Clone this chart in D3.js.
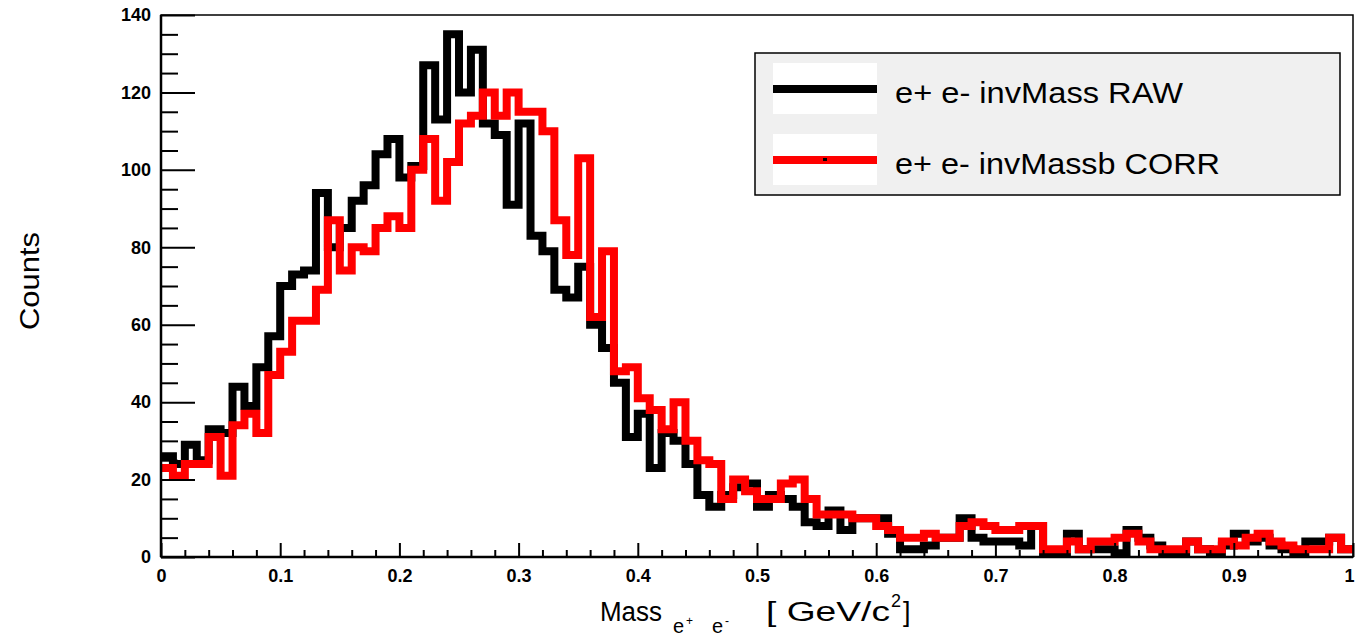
<!DOCTYPE html>
<html>
<head>
<meta charset="utf-8">
<script src="https://cdn.jsdelivr.net/npm/d3@7"></script>
<style>
  body { margin: 0; background: #fff; }
  svg text { font-family: "Liberation Sans", Arial, sans-serif; fill: #000; }
</style>
</head>
<body>
<div id="chart"></div>
<script>
// bins of 0.01 GeV/c2 from 0 to 1
const binEdges = d3.range(0, 101).map(i => i / 100);

// e+ e- invMass RAW
const rawCounts = [
  26, 24, 29, 25, 33, 32, 44, 39, 49, 57,
  70, 73, 74, 94, 80, 85, 92, 96, 104, 108,
  98, 101, 127, 113, 135, 120, 131, 112, 109, 91,
  112, 83, 79, 69, 67, 75, 60, 54, 45, 31,
  37, 23, 32, 30, 24, 16, 13, 16, 18, 19,
  13, 16, 15, 13, 9, 8, 12, 7, 10, 10,
  10, 6, 2, 2, 3, 5, 5, 10, 5, 4,
  4, 4, 3, 8, 1, 1, 6, 2, 2, 2,
  1, 7, 5, 3, 1, 1, 4, 2, 1, 3,
  6, 4, 5, 3, 2, 1, 4, 4, 5, 2
];

// e+ e- invMassb CORR
const corrCounts = [
  23, 21, 24, 24, 31, 21, 34, 37, 32, 47,
  53, 61, 61, 69, 87, 74, 80, 79, 85, 88,
  85, 100, 108, 92, 102, 112, 114, 120, 114, 120,
  115, 115, 110, 87, 78, 103, 62, 79, 48, 49,
  41, 38, 33, 40, 30, 25, 24, 15, 20, 17,
  15, 15, 19, 20, 15, 11, 11, 11, 10, 10,
  8, 7, 5, 5, 6, 5, 5, 8, 9, 8,
  7, 7, 8, 8, 2, 2, 4, 2, 4, 4,
  5, 6, 4, 2, 2, 2, 4, 2, 2, 4,
  3, 5, 6, 4, 3, 2, 2, 2, 5, 2
];

const yMajor = d3.range(0, 141, 20);
const yMinor = d3.range(0, 141, 5).filter(v => v % 20 !== 0);
const xMajor = d3.range(0, 11).map(i => i / 10);
const xMinor = d3.range(0, 51).map(i => i / 50).filter((v, i) => i % 5 !== 0);

const legendLabels = ["e+ e- invMass RAW", "e+ e- invMassb CORR"];
const colors = ["#000000", "#ff0000"];

const W = 1355, H = 638;
const L = 161, R = 1353, T = 15, B = 557;

const svg = d3.select("#chart").append("svg")
  .attr("width", W).attr("height", H);

const x = d3.scaleLinear().domain([0, 1]).range([L, R]);
const y = d3.scaleLinear().domain([0, 140]).range([B, T]);

svg.append("clipPath").attr("id", "plotclip")
  .append("rect").attr("x", L).attr("y", T).attr("width", R - L).attr("height", B - T);

// histograms (step lines)
const step = d3.line()
  .x(d => x(d[0]))
  .y(d => y(d[1]))
  .curve(d3.curveStepAfter);

function histPoints(vals) {
  const pts = vals.map((v, i) => [binEdges[i], v]);
  pts.push([binEdges[vals.length], vals[vals.length - 1]]);
  return pts;
}

const hg = svg.append("g").attr("clip-path", "url(#plotclip)");
[rawCounts, corrCounts].forEach((vals, k) => {
  hg.append("path")
    .attr("d", step(histPoints(vals)))
    .attr("fill", "none")
    .attr("stroke", colors[k])
    .attr("stroke-width", 8)
    .attr("stroke-linejoin", "miter");
});

// axes: ticks point inward
const yAxisMajor = svg.append("g").attr("transform", `translate(${L},0)`)
  .call(d3.axisLeft(y).tickValues(yMajor).tickSize(-34).tickPadding(10).tickFormat(d3.format("d")));
const yAxisMinor = svg.append("g").attr("transform", `translate(${L},0)`)
  .call(d3.axisLeft(y).tickValues(yMinor).tickSize(-17).tickFormat(""));
const xAxisMajor = svg.append("g").attr("transform", `translate(0,${B})`)
  .call(d3.axisBottom(x).tickValues(xMajor).tickSize(-14).tickPadding(12).tickFormat(d => d === 0 ? "0" : d === 1 ? "1" : d3.format(".1f")(d)));
const xAxisMinor = svg.append("g").attr("transform", `translate(0,${B})`)
  .call(d3.axisBottom(x).tickValues(xMinor).tickSize(-7).tickFormat(""));

[yAxisMajor, yAxisMinor, xAxisMajor, xAxisMinor].forEach(g => {
  g.select(".domain").remove();
  g.selectAll("line").attr("stroke", "#000").attr("stroke-width", 2);
  g.selectAll("text").style("font-size", "18px").style("font-weight", "bold")
    .style("font-family", "Liberation Sans, Arial, sans-serif");
});
// last x label sits on the frame edge
xAxisMajor.selectAll(".tick text").filter(d => d === 1).attr("dx", -4);

// frame
svg.append("rect")
  .attr("x", L).attr("y", T).attr("width", R - L).attr("height", B - T)
  .attr("fill", "none").attr("stroke", "#000").attr("stroke-width", 1.5);
svg.append("line").attr("x1", L).attr("x2", L).attr("y1", T).attr("y2", B)
  .attr("stroke", "#000").attr("stroke-width", 2.5);
svg.append("line").attr("x1", L).attr("x2", R).attr("y1", B).attr("y2", B)
  .attr("stroke", "#000").attr("stroke-width", 2.5);

// axis titles
svg.append("text")
  .attr("transform", "translate(39,281) rotate(-90)")
  .attr("text-anchor", "middle")
  .attr("textLength", 98).attr("lengthAdjust", "spacingAndGlyphs")
  .style("font-size", "28px")
  .text("Counts");

svg.append("text").attr("x", 600).attr("y", 621)
  .attr("textLength", 62).attr("lengthAdjust", "spacingAndGlyphs")
  .style("font-size", "27px").text("Mass");
// subscript e+ e-
svg.append("text").attr("x", 673).attr("y", 633).style("font-size", "20px").text("e");
svg.append("text").attr("x", 686).attr("y", 625).style("font-size", "12px").text("+");
svg.append("text").attr("x", 712).attr("y", 633).style("font-size", "20px").text("e");
svg.append("text").attr("x", 725).attr("y", 625).style("font-size", "12px").text("-");
svg.append("text").attr("x", 766).attr("y", 621)
  .attr("textLength", 124).attr("lengthAdjust", "spacingAndGlyphs")
  .style("font-size", "27px").text("[ GeV/c");
svg.append("text").attr("x", 891).attr("y", 607).style("font-size", "18px").text("2");
svg.append("text").attr("x", 903).attr("y", 621).style("font-size", "27px").text("]");

// legend
const lg = svg.append("g");
lg.append("rect").attr("x", 755).attr("y", 53).attr("width", 585).attr("height", 142)
  .attr("fill", "#f0f0f0").attr("stroke", "#000").attr("stroke-width", 1.5);
legendLabels.forEach((lab, k) => {
  const cy = 89 + k * 71;
  lg.append("rect").attr("x", 773).attr("y", cy - 26).attr("width", 104).attr("height", 51).attr("fill", "#fff");
  lg.append("line").attr("x1", 773).attr("x2", 877).attr("y1", cy).attr("y2", cy)
    .attr("stroke", colors[k]).attr("stroke-width", 8);
  lg.append("text").attr("x", 895).attr("y", cy + 14)
    .attr("textLength", k === 0 ? 288 : 325).attr("lengthAdjust", "spacingAndGlyphs")
    .style("font-size", "29px").text(lab);
});
lg.append("rect").attr("x", 823).attr("y", 158).attr("width", 4).attr("height", 3).attr("fill", "#000");
</script>
</body>
</html>
